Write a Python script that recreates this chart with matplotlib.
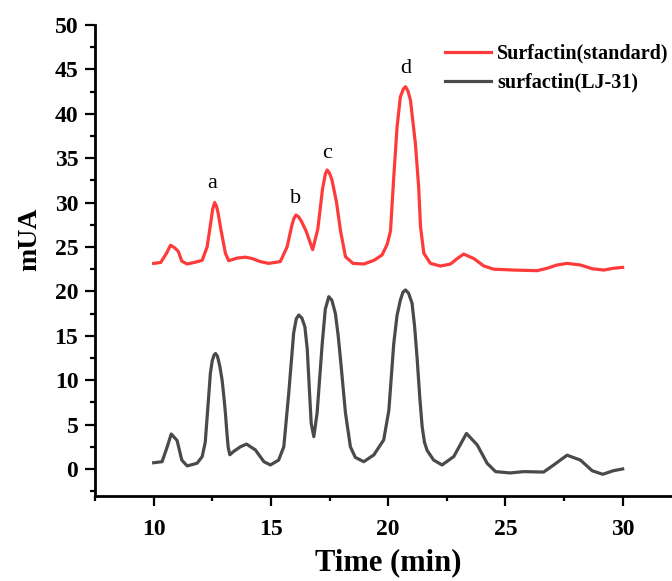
import matplotlib
matplotlib.use("Agg")
import matplotlib.pyplot as plt
from matplotlib.ticker import MultipleLocator

plt.rcParams['font.family'] = ['Liberation Serif', 'DejaVu Serif']

# retention time (min) and absorbance (mUA)
t_std = [10.0, 10.3, 10.55, 10.72, 10.9, 11.05, 11.2, 11.43, 11.8, 12.07, 12.28, 12.45,
         12.52, 12.6, 12.68, 12.75, 12.88, 13.06, 13.2, 13.56, 13.91, 14.2, 14.55, 14.9,
         15.4, 15.69, 15.9, 15.98, 16.07, 16.18, 16.3, 16.5, 16.78, 17.0, 17.2, 17.32,
         17.4, 17.5, 17.6, 17.8, 17.97, 18.18, 18.5, 18.96, 19.4, 19.74, 19.96, 20.1,
         20.24, 20.38, 20.52, 20.65, 20.74, 20.84, 20.95, 21.16, 21.3, 21.38, 21.52, 21.8,
         22.23, 22.66, 22.95, 23.22, 23.65, 24.08, 24.5, 25.36, 26.35, 26.78, 27.2, 27.63,
         28.2, 28.7, 29.2, 29.6, 30.0]
mua_std = [23.15, 23.25, 24.3, 25.2, 24.9, 24.5, 23.4, 23.08, 23.3, 23.5, 25.0, 28.0,
           29.3, 30.0, 29.6, 28.8, 26.8, 24.3, 23.45, 23.75, 23.85, 23.7, 23.35, 23.15,
           23.35, 25.0, 27.5, 28.2, 28.6, 28.4, 27.9, 26.8, 24.7, 27.0, 31.5, 33.2,
           33.67, 33.3, 32.6, 30.0, 26.8, 23.9, 23.15, 23.08, 23.5, 24.1, 25.3, 26.8,
           32.9, 38.5, 41.9, 42.8, 43.05, 42.6, 41.55, 36.7, 31.8, 27.3, 24.3, 23.16,
           22.85, 23.08, 23.7, 24.2, 23.7, 22.86, 22.5, 22.4, 22.33, 22.6, 22.97, 23.15,
           22.97, 22.55, 22.4, 22.6, 22.7]

t_lj = [10.0, 10.36, 10.58, 10.75, 11.0, 11.2, 11.43, 11.85, 12.07, 12.2, 12.3, 12.42,
        12.5, 12.58, 12.64, 12.72, 12.82, 12.92, 13.0, 13.06, 13.12, 13.18, 13.25, 13.4,
        13.7, 13.96, 14.34, 14.7, 14.98, 15.33, 15.55, 15.76, 15.97, 16.08, 16.19, 16.32,
        16.45, 16.55, 16.65, 16.72, 16.83, 16.97, 17.19, 17.32, 17.47, 17.6, 17.75, 17.87,
        17.97, 18.18, 18.39, 18.6, 18.96, 19.39, 19.81, 20.03, 20.24, 20.38, 20.52, 20.63,
        20.74, 20.87, 21.02, 21.13, 21.24, 21.35, 21.45, 21.55, 21.66, 21.94, 22.3, 22.8,
        23.34, 23.8, 24.22, 24.58, 25.2, 25.78, 26.63, 27.06, 27.63, 28.2, 28.7, 29.15,
        29.6, 30.0]
mua_lj = [0.7, 0.82, 2.5, 3.94, 3.2, 1.0, 0.34, 0.64, 1.39, 3.0, 6.5, 10.8,
          12.2, 12.85, 13.0, 12.7, 11.6, 10.0, 8.0, 6.3, 4.2, 2.4, 1.6, 1.95,
          2.5, 2.8, 2.14, 0.82, 0.45, 1.0, 2.5, 8.5, 15.3, 16.9, 17.34, 17.0,
          16.0, 13.5, 8.5, 5.1, 3.64, 6.3, 14.15, 18.0, 19.4, 19.0, 17.5, 15.0,
          12.3, 6.3, 2.5, 1.3, 0.82, 1.58, 3.27, 6.6, 14.15, 17.3, 19.0, 19.9,
          20.16, 19.8, 18.66, 16.0, 12.3, 8.0, 4.76, 3.0, 2.1, 1.0, 0.45, 1.4,
          4.0, 2.7, 0.64, -0.3, -0.45, -0.3, -0.35, 0.45, 1.55, 1.0, -0.2, -0.6,
          -0.2, 0.0]

peak_names = ['a', 'b', 'c', 'd']
peak_t = [12.5, 16.05, 17.4, 20.74]
peak_y = [32.1, 30.5, 35.55, 45.1]

fig = plt.figure(figsize=(6.72, 5.81), dpi=100)
ax = fig.add_axes([0.1414, 0.147, 0.8724, 0.81])

ax.plot(t_std, mua_std, color='#ff3a3a', lw=2.3, solid_joinstyle='round',
        label='Surfactin(standard)')
ax.plot(t_lj, mua_lj, color='#4a4a4a', lw=2.3, solid_joinstyle='round',
        label='surfactin(LJ-31)')

for name, x, y in zip(peak_names, peak_t, peak_y):
    ax.text(x, y, name, fontsize=16, ha='center', va='center')

ax.set_xlim(7.5, 32.5)
ax.set_ylim(-3, 50)
ax.xaxis.set_major_locator(MultipleLocator(5))
ax.xaxis.set_minor_locator(MultipleLocator(2.5))
ax.yaxis.set_major_locator(MultipleLocator(5))
ax.yaxis.set_minor_locator(MultipleLocator(2.5))

for s in ['top', 'right']:
    ax.spines[s].set_visible(False)
for s in ['left', 'bottom']:
    ax.spines[s].set_linewidth(2)

ax.tick_params(which='major', direction='out', length=7, width=1.6, pad=5)
ax.tick_params(which='minor', direction='out', length=3.6, width=1.6)
ax.tick_params(axis='x', which='major', pad=10)
for lab in ax.get_xticklabels() + ax.get_yticklabels():
    lab.set_fontsize(17)
    lab.set_fontweight('bold')

ax.set_xlabel('Time (min)', fontsize=22, fontweight='bold', labelpad=6)
ax.set_ylabel('mUA', fontsize=20, fontweight='bold')
ax.yaxis.set_label_coords(-0.09, 0.545)

ax.legend(loc='upper left', bbox_to_anchor=(0.662, 0.925), bbox_transform=fig.transFigure,
          frameon=False, prop={'weight': 'bold', 'size': 14.5}, handlelength=2.3,
          handletextpad=0.3, labelspacing=0.45, borderpad=0, borderaxespad=0)

fig.savefig('out.png', dpi=100)
